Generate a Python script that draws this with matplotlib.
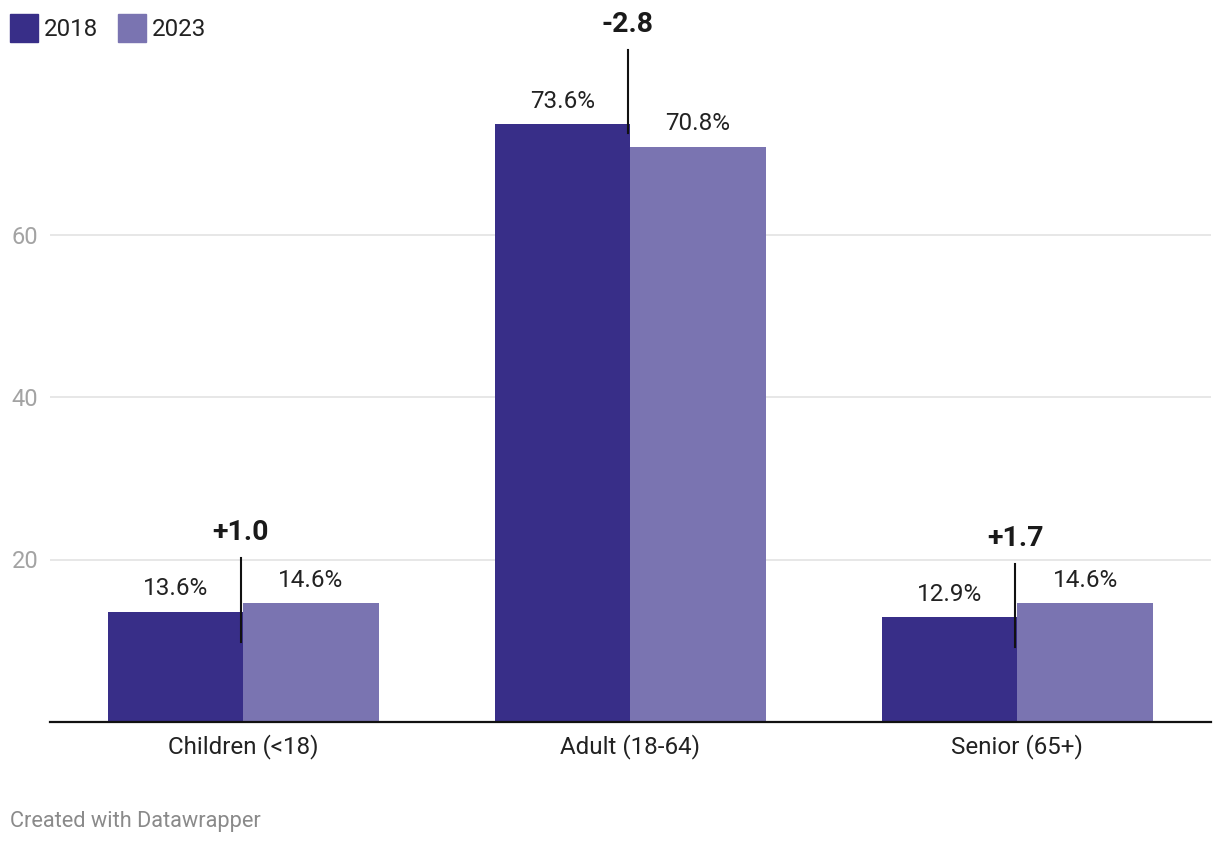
import matplotlib
matplotlib.use("Agg")
import matplotlib.pyplot as plt
from matplotlib.patches import Rectangle
import numpy as np

plt.rcParams['font.family'] = ['Roboto', 'DejaVu Sans']

categories = ["Children (<18)", "Adult (18-64)", "Senior (65+)"]
series_names = ["2018", "2023"]
values_2018 = [13.6, 73.6, 12.9]
values_2023 = [14.6, 70.8, 14.6]
diff_labels = ["+1.0", "-2.8", "+1.7"]
# vertical extent of the change marker lines (data units)
diff_line_low = [9.85, 72.5, 9.2]
diff_line_high = [20.2, 82.7, 19.4]
yticks = [20, 40, 60]

c2018 = "#382e88"
c2023 = "#7a74b1"

W, H = 1220, 844
fig = plt.figure(figsize=(W / 100, H / 100), dpi=100)
left_px = 49.5
ax = fig.add_axes([left_px / W, (H - 722) / H, (1211 - left_px) / W, 722 / H])

x = np.arange(len(categories))
bw = 0.35
ax.bar(x - bw / 2, values_2018, width=bw, color=c2018, zorder=3)
ax.bar(x + bw / 2, values_2023, width=bw, color=c2023, zorder=3)

ax.set_xlim(-0.5, 2.5)
ax.set_ylim(0, 722 / 8.125)

ax.set_yticks(yticks)
ax.set_yticklabels([str(t) for t in yticks])
ax.yaxis.grid(True, color="#e3e3e3", linewidth=1.2, zorder=0)
ax.set_axisbelow(True)
ax.tick_params(axis="y", length=0, pad=8, labelsize=17, labelcolor="#a3a3a3")
ax.set_xticks(x)
ax.set_xticklabels(categories)
ax.tick_params(axis="x", length=0, pad=9, labelsize=17.4, labelcolor="#222222")

for s in ["top", "right", "left"]:
    ax.spines[s].set_visible(False)
ax.spines["bottom"].set_color("#111111")
ax.spines["bottom"].set_linewidth(1.6)
ax.spines["bottom"].set_zorder(5)

# value labels
for xi, v in zip(x - bw / 2, values_2018):
    ax.annotate(f"{v:.1f}%", (xi, v), xytext=(0, 16.5), textcoords="offset points",
                ha="center", va="center", fontsize=17.5, color="#222222")
for xi, v in zip(x + bw / 2, values_2023):
    ax.annotate(f"{v:.1f}%", (xi, v), xytext=(0, 16.5), textcoords="offset points",
                ha="center", va="center", fontsize=17.5, color="#222222")

# change markers
for xi, lo, hi, lab in zip(x, diff_line_low, diff_line_high, diff_labels):
    ax.plot([xi - 0.006, xi - 0.006], [lo, hi], color="#111111", linewidth=1.5,
            zorder=6, clip_on=False)
    ax.annotate(lab, (xi - 0.006, hi), xytext=(0, 18.5), textcoords="offset points",
                ha="center", va="center", fontsize=20.5, fontweight="bold",
                color="#1a1a1a", annotation_clip=False)

# legend
for i, (name, col) in enumerate(zip(series_names, [c2018, c2023])):
    x0 = 10 + i * 108
    fig.patches.append(Rectangle((x0 / W, 1 - 42 / H), 28 / W, 28 / H,
                                 transform=fig.transFigure, color=col))
    fig.text((x0 + 34) / W, 1 - 29.5 / H, name, ha="left", va="center",
             fontsize=17.4, color="#222222")

fig.text(10 / W, 1 - 822 / H, "Created with Datawrapper", ha="left", va="center",
         fontsize=15.7, color="#8a8a8a")

fig.savefig("out.png", dpi=100)
